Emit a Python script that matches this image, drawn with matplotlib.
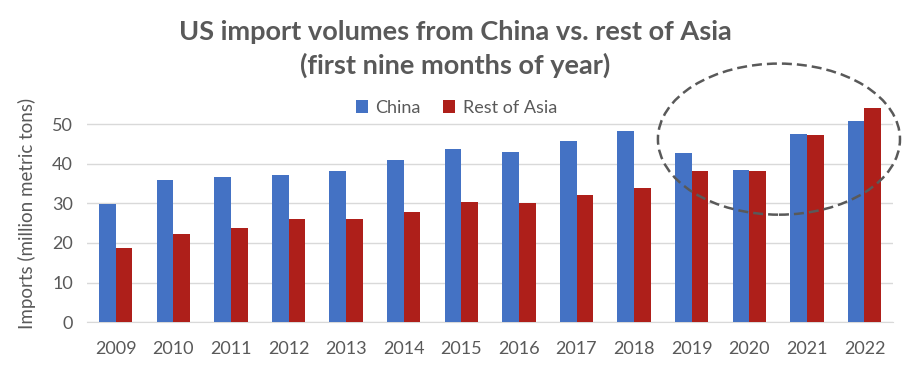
import numpy as np
import matplotlib
matplotlib.use('Agg')
import matplotlib.pyplot as plt
from matplotlib.patches import Ellipse

years = ['2009', '2010', '2011', '2012', '2013', '2014', '2015',
         '2016', '2017', '2018', '2019', '2020', '2021', '2022']
china = [29.8, 36.0, 36.6, 37.2, 38.3, 41.1, 43.9,
         43.0, 45.9, 48.3, 42.8, 38.4, 47.5, 50.8]
rest_of_asia = [18.8, 22.3, 23.9, 26.2, 26.2, 27.9, 30.3,
                30.0, 32.2, 33.9, 38.2, 38.2, 47.3, 54.2]
y_ticks = [0, 10, 20, 30, 40, 50]

TEXT = '#595959'
BLUE = '#4472C4'
RED = '#AE1F1A'

plt.rcParams['font.family'] = ['Lato', 'DejaVu Sans']

fig = plt.figure(figsize=(9.1, 3.74), dpi=100)
ax = fig.add_axes([0.0956, 0.139, 0.886, 0.581])

x = np.arange(len(years))
w = 0.29
ax.bar(x - w / 2, china, w, color=BLUE, label='China', zorder=3)
ax.bar(x + w / 2, rest_of_asia, w, color=RED, label='Rest of Asia', zorder=3)

ax.set_xlim(-0.5, len(years) - 0.5)
ax.set_ylim(0, 55)
ax.set_yticks(y_ticks)
ax.set_xticks(x)
ax.set_xticklabels(years)
ax.tick_params(axis='both', length=0, labelsize=13, colors=TEXT)
ax.tick_params(axis='x', pad=14)
ax.tick_params(axis='y', pad=10)
ax.grid(axis='y', color='#D9D9D9', linewidth=1, zorder=0)
for s in ['top', 'right', 'left']:
    ax.spines[s].set_visible(False)
ax.spines['bottom'].set_color('#D9D9D9')
ax.set_ylabel('Imports (million metric tons)', fontsize=13.5, color=TEXT, labelpad=12)

leg = ax.legend(loc='center', bbox_to_anchor=(0.458, 0.985), ncol=2, frameon=False,
                fontsize=13, handlelength=0.7, handleheight=0.7, handletextpad=0.4,
                columnspacing=1.2)
for t in leg.get_texts():
    t.set_color(TEXT)

fig.text(0.5, 0.87, 'US import volumes from China vs. rest of Asia\n(first nine months of year)',
         ha='center', va='center', fontsize=19.5, fontweight='bold', color=TEXT,
         linespacing=1.4)

ell = Ellipse((0.856, 0.628), 0.266, 0.404, transform=fig.transFigure, fill=False,
              edgecolor='#595959', linestyle=(0, (4, 2)), linewidth=1.8, zorder=5)
fig.patches.append(ell)

fig.savefig('out.png', dpi=100)
